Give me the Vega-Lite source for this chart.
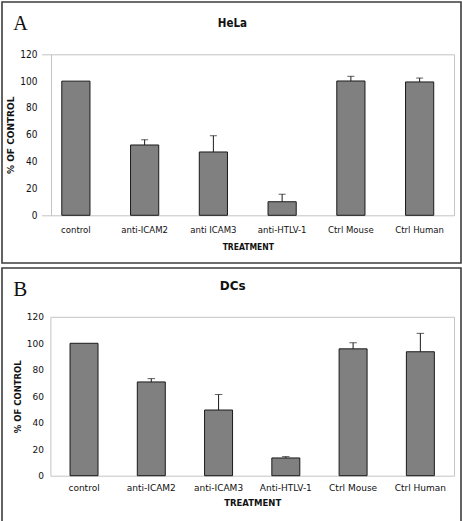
{
  "$schema": "https://vega.github.io/schema/vega-lite/v6.json",
  "padding": {"left": 1, "top": 1, "right": 1, "bottom": 1},
  "spacing": 3,
  "background": "white",
  "config": {
    "view": {"stroke": "#3c3c3c", "strokeWidth": 1.6},
    "axis": {"labelColor": "#111111", "titleColor": "#111111", "domainColor": "#c4c4c4", "domainWidth": 1, "ticks": false, "grid": false}
  },
  "datasets": {
    "hela": [
      {"treatment": "control", "value": 100, "upper": null},
      {"treatment": "anti-ICAM2", "value": 52.4, "upper": 56.3},
      {"treatment": "anti ICAM3", "value": 47.2, "upper": 59.3},
      {"treatment": "anti-HTLV-1", "value": 10.1, "upper": 15.7},
      {"treatment": "Ctrl Mouse", "value": 100.1, "upper": 103.6},
      {"treatment": "Ctrl Human", "value": 99.4, "upper": 102.3}
    ],
    "dcs": [
      {"treatment": "control", "value": 100, "upper": null},
      {"treatment": "anti-ICAM2", "value": 70.8, "upper": 73.3},
      {"treatment": "anti-ICAM3", "value": 49.6, "upper": 61.3},
      {"treatment": "Anti-HTLV-1", "value": 13.4, "upper": 14.4},
      {"treatment": "Ctrl Mouse", "value": 95.8, "upper": 100.4},
      {"treatment": "Ctrl Human", "value": 93.6, "upper": 107.5}
    ]
  },
  "vconcat": [
    {
      "width": 459,
      "height": 261,
      "data": {"name": "hela"},
      "resolve": {"axis": {"x": "independent", "y": "independent"}},
      "layer": [
        {
          "mark": {"type": "bar", "fill": "#808080", "stroke": "#1a1a1a", "strokeWidth": 1},
          "encoding": {
            "x": {
              "field": "treatment", "type": "nominal", "sort": null,
              "scale": {"range": [39.5, 452], "paddingInner": 0.59, "paddingOuter": 0.295},
              "axis": {"orient": "bottom", "offset": -47.7, "labelAngle": 0, "labelFont": "Liberation Sans Narrow, DejaVu Sans Condensed", "labelFontSize": 9.5, "labelPadding": 9,
                       "title": "TREATMENT", "titleFont": "DejaVu Sans Condensed", "titleFontWeight": "bold", "titleFontSize": 8.5, "titlePadding": 9}
            },
            "y": {
              "field": "value", "type": "quantitative",
              "scale": {"domain": [0, 120], "range": [213.3, 52.3], "nice": false},
              "axis": {"orient": "left", "offset": -49, "values": [0, 20, 40, 60, 80, 100, 120], "labelFont": "Liberation Sans Narrow, DejaVu Sans Condensed", "labelFontSize": 10, "labelPadding": 14,
                       "title": "% OF CONTROL", "titleFont": "DejaVu Sans", "titleFontWeight": "bold", "titleFontSize": 9, "titlePadding": 4}
            }
          }
        },
        {
          "transform": [{"filter": "datum.upper != null"}],
          "mark": {"type": "rule", "color": "#1a1a1a", "strokeWidth": 1},
          "encoding": {
            "x": {
              "field": "treatment", "type": "nominal", "sort": null,
              "axis": {"orient": "top", "offset": -52.3, "labels": false, "title": "HeLa", "titleX": 229.9, "titleY": -28, "titleAlign": "center", "titleBaseline": "alphabetic",
                       "titleFont": "DejaVu Sans Condensed", "titleFontSize": 11.5, "titleFontWeight": "bold"}
            },
            "y": {
              "field": "value", "type": "quantitative",
              "axis": {"orient": "right", "offset": -7, "labels": false, "title": "A", "titleAngle": 0, "titleX": -441.3, "titleY": 27.3, "titleAlign": "left", "titleBaseline": "alphabetic",
                       "titleFont": "Liberation Serif", "titleFontSize": 20, "titleFontWeight": "normal"}
            },
            "y2": {"field": "upper"}
          }
        },
        {
          "transform": [{"filter": "datum.upper != null"}],
          "mark": {"type": "tick", "color": "#1a1a1a", "size": 7, "thickness": 1},
          "encoding": {
            "x": {"field": "treatment", "type": "nominal", "sort": null, "axis": null},
            "y": {"field": "upper", "type": "quantitative", "axis": null}
          }
        }
      ]
    },
    {
      "width": 459,
      "height": 254,
      "data": {"name": "dcs"},
      "resolve": {"axis": {"x": "independent", "y": "independent"}},
      "layer": [
        {
          "mark": {"type": "bar", "fill": "#808080", "stroke": "#1a1a1a", "strokeWidth": 1},
          "encoding": {
            "x": {
              "field": "treatment", "type": "nominal", "sort": null,
              "scale": {"range": [48.4, 452], "paddingInner": 0.584, "paddingOuter": 0.292},
              "axis": {"orient": "bottom", "offset": -46.3, "labelAngle": 0, "labelFont": "DejaVu Sans", "labelFontSize": 9, "labelPadding": 8,
                       "title": "TREATMENT", "titleFont": "DejaVu Sans", "titleFontWeight": "bold", "titleFontSize": 8.5, "titlePadding": 6}
            },
            "y": {
              "field": "value", "type": "quantitative",
              "scale": {"domain": [0, 120], "range": [207.7, 48.8], "nice": false},
              "axis": {"orient": "left", "offset": -48.4, "values": [0, 20, 40, 60, 80, 100, 120], "labelFont": "DejaVu Sans", "labelFontSize": 9, "labelPadding": 7,
                       "title": "% OF CONTROL", "titleFont": "DejaVu Sans", "titleFontWeight": "bold", "titleFontSize": 8.5, "titlePadding": 4}
            }
          }
        },
        {
          "transform": [{"filter": "datum.upper != null"}],
          "mark": {"type": "rule", "color": "#1a1a1a", "strokeWidth": 1},
          "encoding": {
            "x": {
              "field": "treatment", "type": "nominal", "sort": null,
              "axis": {"orient": "top", "offset": -48.8, "labels": false, "title": "DCs", "titleX": 230.2, "titleY": -27.1, "titleAlign": "center", "titleBaseline": "alphabetic",
                       "titleFont": "DejaVu Sans", "titleFontSize": 12, "titleFontWeight": "bold"}
            },
            "y": {
              "field": "value", "type": "quantitative",
              "axis": {"orient": "right", "offset": -7, "labels": false, "title": "B", "titleAngle": 0, "titleX": -441.3, "titleY": 27.3, "titleAlign": "left", "titleBaseline": "alphabetic",
                       "titleFont": "Liberation Serif", "titleFontSize": 21, "titleFontWeight": "normal"}
            },
            "y2": {"field": "upper"}
          }
        },
        {
          "transform": [{"filter": "datum.upper != null"}],
          "mark": {"type": "tick", "color": "#1a1a1a", "size": 7.5, "thickness": 1},
          "encoding": {
            "x": {"field": "treatment", "type": "nominal", "sort": null, "axis": null},
            "y": {"field": "upper", "type": "quantitative", "axis": null}
          }
        }
      ]
    }
  ]
}
